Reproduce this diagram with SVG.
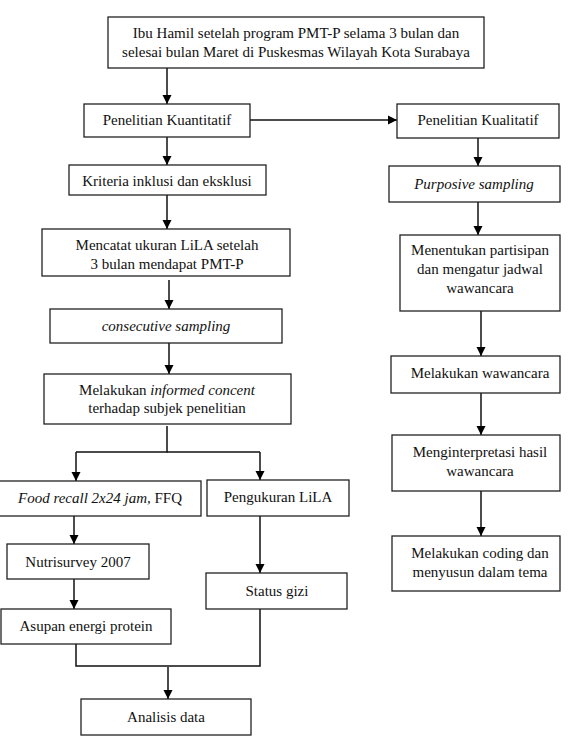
<svg xmlns="http://www.w3.org/2000/svg" width="571" height="743" viewBox="0 0 571 743">
<defs>
<marker id="ah" markerWidth="9" markerHeight="10" refX="9" refY="5" orient="auto" markerUnits="userSpaceOnUse">
<path d="M0,0.5 L9,5 L0,9.5 z" fill="#000"/>
</marker>
<style>
rect{fill:#fff;stroke:#222;stroke-width:1.3}
text{font-family:"Liberation Serif","Times New Roman",serif;font-size:15px;fill:#111;text-anchor:middle}
.c{fill:none;stroke:#111;stroke-width:1.5}
.a{marker-end:url(#ah)}
</style>
</defs>
<rect x="0" y="0" width="571" height="743" style="fill:#fff;stroke:none"/>
<g id="connectors">
<line class="c a" x1="167" y1="68" x2="167" y2="104"/>
<line class="c a" x1="250" y1="120" x2="397" y2="120"/>
<line class="c a" x1="478" y1="138" x2="478" y2="166"/>
<line class="c a" x1="478" y1="202" x2="478" y2="235"/>
<line class="c a" x1="481" y1="311" x2="481" y2="356"/>
<line class="c a" x1="481" y1="393" x2="481" y2="435"/>
<line class="c a" x1="481" y1="491" x2="481" y2="536"/>
<line class="c a" x1="167" y1="137" x2="167" y2="165"/>
<line class="c a" x1="167" y1="195" x2="167" y2="229"/>
<line class="c a" x1="169" y1="280" x2="169" y2="309"/>
<line class="c a" x1="169" y1="343" x2="169" y2="374"/>
<polyline class="c" points="167,426 167,452 76,452"/>
<line class="c" x1="167" y1="452" x2="260" y2="452"/>
<line class="c a" x1="76" y1="452" x2="76" y2="481"/>
<line class="c a" x1="260" y1="452" x2="260" y2="480"/>
<line class="c a" x1="74" y1="516" x2="74" y2="544"/>
<line class="c a" x1="74" y1="579" x2="74" y2="609"/>
<line class="c a" x1="260" y1="516" x2="260" y2="573"/>
<polyline class="c" points="76,644 76,666 260,666 260,609"/>
<line class="c a" x1="168" y1="667" x2="168" y2="699"/>
</g>
<g id="n1"><rect x="108" y="17" width="376" height="51"/><text x="296" y="38">Ibu Hamil setelah program PMT-P selama 3 bulan dan</text><text x="296" y="57">selesai bulan Maret di Puskesmas Wilayah Kota Surabaya</text></g>
<g id="n2"><rect x="84" y="104" width="166" height="33"/><text x="167" y="125">Penelitian Kuantitatif</text></g>
<g id="n3"><rect x="397" y="104" width="162" height="34"/><text x="478" y="125">Penelitian Kualitatif</text></g>
<g id="n4"><rect x="389" y="166" width="171" height="36"/><text x="474" y="189" font-style="italic">Purposive sampling</text></g>
<g id="n5"><rect x="400" y="235" width="160" height="76"/><text x="480" y="255">Menentukan partisipan</text><text x="480" y="274">dan mengatur jadwal</text><text x="480" y="293">wawancara</text></g>
<g id="n6"><rect x="391" y="356" width="169" height="37"/><text x="480" y="378">Melakukan wawancara</text></g>
<g id="n7"><rect x="392" y="435" width="168" height="56"/><text x="480" y="457">Menginterpretasi hasil</text><text x="480" y="476">wawancara</text></g>
<g id="n8"><rect x="392" y="536" width="168" height="55"/><text x="480" y="558">Melakukan coding dan</text><text x="480" y="577">menyusun dalam tema</text></g>
<g id="n9"><rect x="69" y="165" width="197" height="30"/><text x="167" y="186">Kriteria inklusi dan eksklusi</text></g>
<g id="n10"><rect x="42" y="229" width="248" height="47"/><text x="167" y="250">Mencatat ukuran LiLA setelah</text><text x="167" y="269">3 bulan mendapat PMT-P</text></g>
<g id="n11"><rect x="50" y="309" width="232" height="34"/><text x="166" y="331" font-style="italic">consecutive sampling</text></g>
<g id="n12"><rect x="44" y="374" width="247" height="50"/><text x="167" y="395">Melakukan <tspan font-style="italic">informed concent</tspan></text><text x="167" y="413">terhadap subjek penelitian</text></g>
<g id="n13"><rect x="-1" y="481" width="202" height="35"/><text x="100" y="503"><tspan font-style="italic">Food recall 2x24 jam,</tspan> FFQ</text></g>
<g id="n14"><rect x="207" y="480" width="142" height="36"/><text x="278" y="502">Pengukuran LiLA</text></g>
<g id="n15"><rect x="7" y="544" width="142" height="35"/><text x="78" y="567">Nutrisurvey 2007</text></g>
<g id="n16"><rect x="206" y="573" width="141" height="36"/><text x="277" y="596">Status gizi</text></g>
<g id="n17"><rect x="1" y="609" width="170" height="35"/><text x="86" y="631">Asupan energi protein</text></g>
<g id="n18"><rect x="81" y="699" width="170" height="36"/><text x="166" y="722">Analisis data</text></g>
</svg>
